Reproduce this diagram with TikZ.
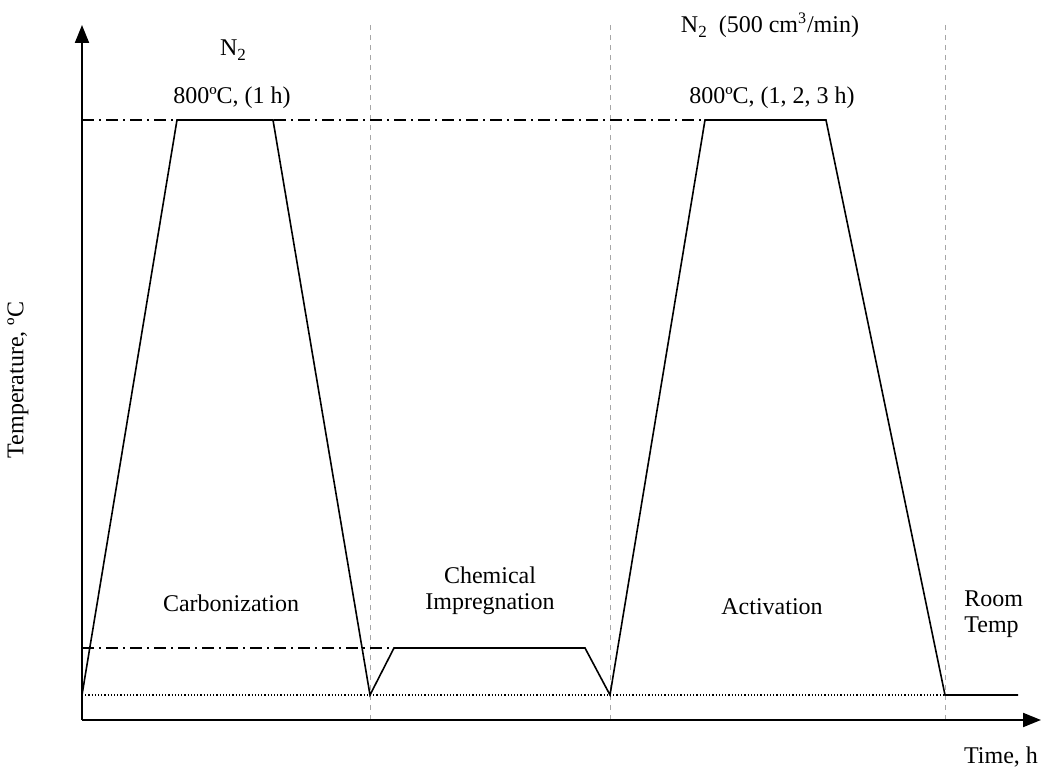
\documentclass[tikz,border=0pt]{standalone}
\usepackage{fontspec}
\setmainfont{Liberation Serif}
\usetikzlibrary{arrows.meta}
\newcommand{\lowsub}[1]{\raisebox{-0.45ex}{\fontsize{8.5}{8.5}\selectfont #1}}
\begin{document}
\begin{tikzpicture}[x=0.5pt,y=-0.5pt,
  axis/.style={line width=1pt,-{Triangle[length=9pt,width=7pt]}},
  profile/.style={line width=0.8pt,line join=miter},
  sep/.style={gray!70,line width=0.5pt,dash pattern=on 2.5pt off 2.5pt},
  dashdot/.style={line width=0.7pt,dash pattern=on 6pt off 2.5pt on 1pt off 2.5pt},
  dotline/.style={line width=0.6pt,dash pattern=on 0.6pt off 1pt},
  lbl/.style={font=\fontsize{12}{14}\selectfont,inner sep=0pt,align=center}]
\useasboundingbox (0,0) rectangle (1041,780);
% key coordinates
\coordinate (O) at (82,720);
\coordinate (ytop) at (82,25);
\coordinate (xend) at (1041,720);
\coordinate (p0) at (82,695);
\coordinate (p1) at (177,120);
\coordinate (p2) at (273,120);
\coordinate (p3) at (370,695);
\coordinate (p4) at (394,648);
\coordinate (p5) at (585,648);
\coordinate (p6) at (610,695);
\coordinate (p7) at (705,120);
\coordinate (p8) at (826,120);
\coordinate (p9) at (945,695);
\coordinate (p10) at (1018,695);
% separators
\foreach \x/\n in {370/a,610/b,945/c}{
  \coordinate (s\n t) at (\x,25);
  \coordinate (s\n b) at (\x,720);
  \draw[sep] (s\n t) -- (s\n b);
}
% reference lines
\coordinate (hT) at (82,120);
\coordinate (hM) at (82,648);
\draw[dashdot] (hT) -- (p7);
\draw[dashdot] (hM) -- (p4);
\draw[dotline] (p0) -- (p9);
% profile
\draw[profile] (p0) -- (p1) -- (p2) -- (p3) -- (p4) -- (p5) -- (p6) -- (p7) -- (p8) -- (p9) -- (p10);
% axes
\draw[axis] (O) -- (ytop);
\draw[axis] (O) -- (xend);
% labels
\node[lbl] (n2a) at (233,50) {N\lowsub{2}};
\node[lbl] (t1) at (232,98) {800ºC, (1 h)};
\node[lbl] (n2b) at (770,25) {N\lowsub{2}\ \ (500 cm\textsuperscript{3}/min)};
\node[lbl] (t2) at (772,98) {800ºC, (1, 2, 3 h)};
\node[lbl] (carb) at (231,603) {Carbonization};
\node[lbl] (chem) at (490,591) {Chemical\\[-1pt]Impregnation};
\node[lbl] (act) at (772,607) {Activation};
\node[lbl,align=left,anchor=west] (room) at (964,614) {Room\\[-1pt]Temp};
\node[lbl,rotate=90] (ylab) at (18,380) {Temperature, ºC};
\node[lbl] (xlab) at (1001,757) {Time, h};
\end{tikzpicture}
\end{document}
